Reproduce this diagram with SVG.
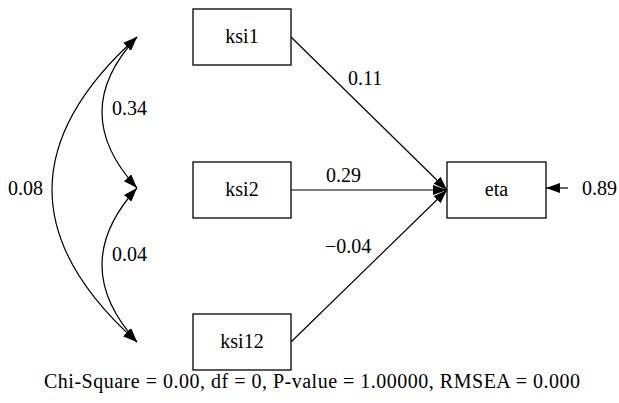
<svg xmlns="http://www.w3.org/2000/svg" width="619" height="403" viewBox="0 0 619 403">
<style>
  .box { fill: #fff; stroke: #000; stroke-width: 1.3; }
  .edge { fill: none; stroke: #000; stroke-width: 1.2; }
</style>
<defs>
  <marker id="ah" viewBox="0 0 14 10" refX="14" refY="5" markerWidth="14" markerHeight="10" markerUnits="userSpaceOnUse" orient="auto-start-reverse">
    <path d="M0,0 L14,5 L0,10 z" fill="#000"/>
  </marker>
</defs>
<rect width="619" height="403" fill="#fff"/>
<g id="connectors">
  <path class="edge" d="M291,37 L447,190" marker-end="url(#ah)"/>
  <path class="edge" d="M291,190 L447,190" marker-end="url(#ah)"/>
  <path class="edge" d="M291,342 L447,190" marker-end="url(#ah)"/>
  <path class="edge" d="M568,188 L546,188" marker-end="url(#ah)"/>
  <path class="edge" d="M137,37 Q-33,190 137,342" marker-start="url(#ah)" marker-end="url(#ah)"/>
  <path class="edge" d="M137,37 Q67,112 137,188" marker-start="url(#ah)" marker-end="url(#ah)"/>
  <path class="edge" d="M137,188 Q67,265 137,342" marker-start="url(#ah)" marker-end="url(#ah)"/>
  <text font-family="Liberation Serif" font-size="20" x="348" y="85">0.11</text>
  <text font-family="Liberation Serif" font-size="20" x="326" y="182">0.29</text>
  <text font-family="Liberation Serif" font-size="20" x="325" y="253">−0.04</text>
  <text font-family="Liberation Serif" font-size="20" x="112" y="115">0.34</text>
  <text font-family="Liberation Serif" font-size="20" x="112" y="261">0.04</text>
  <text font-family="Liberation Serif" font-size="20" x="8" y="195">0.08</text>
  <text font-family="Liberation Serif" font-size="20" x="582" y="195">0.89</text>
</g>
<g id="ksi1">
  <rect class="box" x="193" y="9" width="98" height="56"/>
  <text font-family="Liberation Serif" font-size="20" x="242" y="43" text-anchor="middle">ksi1</text>
</g>
<g id="ksi2">
  <rect class="box" x="193" y="162" width="98" height="56"/>
  <text font-family="Liberation Serif" font-size="20" x="242" y="196" text-anchor="middle">ksi2</text>
</g>
<g id="ksi12">
  <rect class="box" x="193" y="314" width="98" height="56"/>
  <text font-family="Liberation Serif" font-size="20" x="242" y="348" text-anchor="middle">ksi12</text>
</g>
<g id="eta">
  <rect class="box" x="447" y="162" width="99" height="56"/>
  <text font-family="Liberation Serif" font-size="20" x="496.5" y="196" text-anchor="middle">eta</text>
</g>
<text font-family="Liberation Serif" font-size="20" x="312" y="388" text-anchor="middle" textLength="536" lengthAdjust="spacing">Chi-Square = 0.00, df = 0, P-value = 1.00000, RMSEA = 0.000</text>
</svg>
